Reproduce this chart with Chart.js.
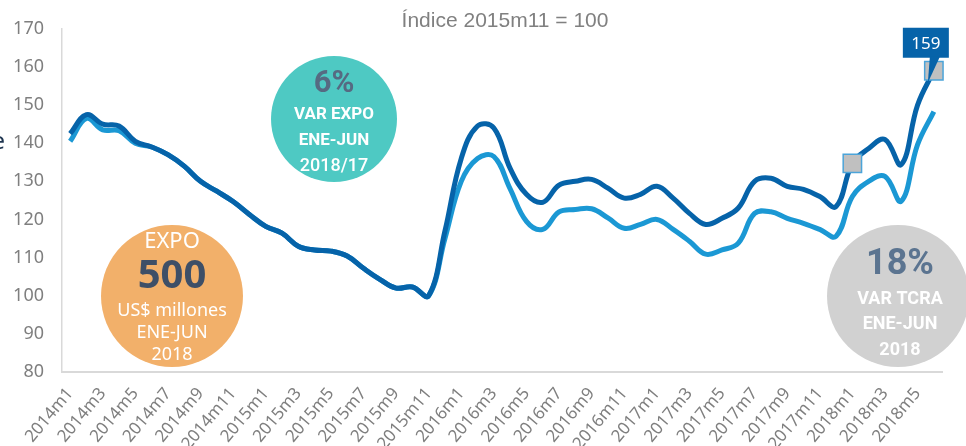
<!DOCTYPE html>
<html>
<head>
<meta charset="utf-8">
<script src="https://cdn.jsdelivr.net/npm/chart.js@4.4.1/dist/chart.umd.min.js"></script>
<style>
  html, body { margin: 0; padding: 0; background: #fff; }
  #wrap { width: 966px; height: 446px; position: relative; }
</style>
</head>
<body>
<div id="wrap"><canvas id="chart" width="966" height="446"></canvas></div>
<script>
const months = [
  "2014m1", "2014m2", "2014m3", "2014m4", "2014m5", "2014m6", "2014m7", "2014m8", "2014m9", "2014m10", "2014m11", "2014m12",
  "2015m1", "2015m2", "2015m3", "2015m4", "2015m5", "2015m6", "2015m7", "2015m8", "2015m9", "2015m10", "2015m11", "2015m12",
  "2016m1", "2016m2", "2016m3", "2016m4", "2016m5", "2016m6", "2016m7", "2016m8", "2016m9", "2016m10", "2016m11", "2016m12",
  "2017m1", "2017m2", "2017m3", "2017m4", "2017m5", "2017m6", "2017m7", "2017m8", "2017m9", "2017m10", "2017m11", "2017m12",
  "2018m1", "2018m2", "2018m3", "2018m4", "2018m5", "2018m6"
];

// serie oscura (con marcadores) y serie clara
const darkSeries = [
  142.5, 147.5, 145, 144.5, 140.5, 139, 137, 134, 130, 127.4, 124.7, 121.3,
  118.2, 116.4, 113, 112, 111.7, 110.4, 107.2, 104.3, 102, 102.3, 100, 117,
  136, 144.5, 144, 133.4, 126.6, 124.5, 129, 130, 130.5, 128.2, 125.6, 126.6,
  128.7, 125.6, 121.6, 118.7, 120.3, 123, 130, 130.8, 128.7, 127.9, 126, 123.4,
  134.7, 138.6, 141, 134.4, 150, 159
];
const lightSeries = [
  140.5, 146.5, 143.5, 143.3, 140, 139, 137, 134, 130, 127.4, 124.7, 121.3,
  118.2, 116.4, 113, 112, 111.7, 110.4, 107.2, 104.3, 102, 102.3, 100, 115,
  130, 136, 136.5, 128, 119.5, 117.4, 122, 122.6, 122.8, 120.4, 117.7, 118.7,
  120, 117.4, 114.3, 110.9, 112, 113.8, 121.6, 122, 120.3, 119, 117.4, 115.6,
  126, 130, 131.3, 124.8, 139.6, 148.3
];

const markedMonths = ["2018m1", "2018m6"];
const calloutMonth = "2018m6";
const calloutText = "159";
const yTicks = [80, 90, 100, 110, 120, 130, 140, 150, 160, 170];
const titleText = "Índice 2015m11 = 100";

const DARK = "#0663a9";
const LIGHT = "#1b98d4";

function isMarked(ctx) {
  return markedMonths.includes(months[ctx.dataIndex]);
}

const overlay = {
  id: "overlay",
  afterDatasetsDraw(chart) {
    const c = chart.ctx;
    c.save();

    // titulo
    c.fillStyle = "#808080";
    c.font = "21px 'Liberation Sans', Arial, sans-serif";
    c.textAlign = "center";
    c.textBaseline = "middle";
    c.fillText(titleText, 505, 21);

    // letra cortada a la izquierda
    c.fillStyle = "#1f3550";
    c.font = "24px 'Noto Sans', sans-serif";
    c.textAlign = "right";
    c.fillText("e", 5, 142);

    // callout 159
    const meta = chart.getDatasetMeta(0);
    const pt = meta.data[months.indexOf(calloutMonth)];
    const bx = pt.x - 31, by = pt.y - 43, bw = 46, bh = 30;
    c.fillStyle = "#0663a9";
    c.fillRect(bx, by, bw, bh);
    c.beginPath();
    c.moveTo(pt.x - 4, by + bh - 1);
    c.lineTo(pt.x + 6, by + bh - 1);
    c.lineTo(pt.x - 6, pt.y + 12);
    c.closePath();
    c.fill();
    c.fillStyle = "#fff";
    c.font = "17px 'Noto Sans', sans-serif";
    c.textAlign = "center";
    c.fillText(calloutText, bx + bw / 2, by + bh / 2 + 1);

    // circulo turquesa
    c.fillStyle = "#4ec9c3";
    c.beginPath(); c.arc(334, 119, 63, 0, Math.PI * 2); c.fill();
    c.fillStyle = "#566a82";
    c.font = "bold 31px Roboto, sans-serif";
    c.fillText("6%", 334, 84);
    c.fillStyle = "#fff";
    c.font = "bold 17px Roboto, sans-serif";
    c.fillText("VAR EXPO", 334, 115);
    c.fillText("ENE-JUN", 334, 141);
    c.font = "500 18px Roboto, sans-serif";
    c.fillText("2018/17", 334, 166);

    // circulo naranja
    c.fillStyle = "#f2b06a";
    c.beginPath(); c.arc(172, 296, 71, 0, Math.PI * 2); c.fill();
    c.fillStyle = "#fff";
    c.font = "22px 'Noto Sans', sans-serif";
    c.fillText("EXPO", 172, 242);
    c.fillStyle = "#3e4f67";
    c.font = "bold 40px 'Noto Sans', sans-serif";
    c.fillText("500", 172, 277);
    c.fillStyle = "#fff";
    c.font = "18px 'Noto Sans', sans-serif";
    c.fillText("US$ millones", 172, 311);
    c.fillText("ENE-JUN", 172, 333);
    c.fillText("2018", 172, 355);

    // circulo gris
    c.fillStyle = "#d1d1d1";
    c.beginPath(); c.arc(898, 296, 71, 0, Math.PI * 2); c.fill();
    c.fillStyle = "#5b7490";
    c.font = "bold 36px Roboto, sans-serif";
    c.fillText("18%", 900, 265);
    c.fillStyle = "#fff";
    c.font = "bold 18px Roboto, sans-serif";
    c.fillText("VAR TCRA", 900, 299);
    c.fillText("ENE-JUN", 900, 324);
    c.fillText("2018", 900, 350);

    c.restore();
  }
};

new Chart(document.getElementById("chart"), {
  type: "line",
  data: {
    labels: months,
    datasets: [
      {
        data: darkSeries,
        borderColor: DARK,
        borderWidth: 5,
        tension: 0.4,
        pointRadius: (ctx) => (isMarked(ctx) ? 13 : 0),
        pointStyle: "rect",
        pointBackgroundColor: "#c0c0c0",
        pointBorderColor: "#4ba4d9",
        pointBorderWidth: 1.5,
        pointHoverRadius: 0
      },
      {
        data: lightSeries,
        borderColor: LIGHT,
        borderWidth: 5,
        tension: 0.4,
        pointRadius: 0,
        pointHoverRadius: 0
      }
    ]
  },
  options: {
    responsive: false,
    animation: false,
    events: [],
    layout: { padding: { top: 27, right: 24, left: 0, bottom: 0 } },
    plugins: { legend: { display: false }, tooltip: { enabled: false } },
    scales: {
      x: {
        offset: true,
        grid: { display: false, drawTicks: false },
        border: { color: "#d9d9d9", width: 2 },
        afterCalculateLabelRotation: (scale) => { scale.labelRotation = 50; },
        afterFit: (scale) => { scale.height = 74; },
        ticks: {
          autoSkip: false,
          minRotation: 45,
          maxRotation: 45,
          padding: 12,
          color: "#7f7f7f",
          font: { family: "'Noto Sans', sans-serif", size: 17 },
          callback: (v, i) => (i % 2 === 0 ? months[i] : "")
        }
      },
      y: {
        min: yTicks[0],
        max: yTicks[yTicks.length - 1],
        afterBuildTicks: (scale) => { scale.ticks = yTicks.map((v) => ({ value: v })); },
        grid: { display: false, drawTicks: false },
        border: { color: "#d9d9d9", width: 1.5 },
        afterFit: (scale) => { scale.width = 62; },
        ticks: {
          padding: 18,
          color: "#7f7f7f",
          font: { family: "'Noto Sans', sans-serif", size: 18 }
        }
      }
    }
  },
  plugins: [overlay]
});
</script>
</body>
</html>
